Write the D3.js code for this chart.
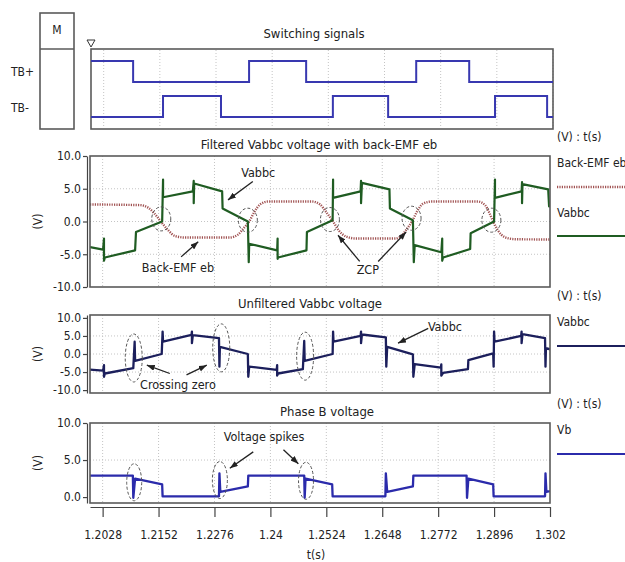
<!DOCTYPE html>
<html>
<head>
<meta charset="utf-8">
<script src="https://cdn.jsdelivr.net/npm/d3@7"></script>
<style>
    body { margin: 0; background: #fff; }
    svg text { font-family: "Liberation Sans Narrow", "DejaVu Sans Condensed", "Arial Narrow", Arial, sans-serif; fill: #222; }
    .frame { fill: none; stroke: #5a5a5a; stroke-width: 1.6; }
    .grid line { stroke: #c4c4c4; stroke-width: 1; stroke-dasharray: 1,2; }
    .axis path, .axis line { stroke: #444; stroke-width: 1.2; }
    .axis text { font-size: 12px; }
    .title { font-size: 13px; }
    .note { font-size: 12.5px; }
    .zone { fill: none; stroke: #555; stroke-width: 1; stroke-dasharray: 3,2; }
    .arrow { stroke: #222; stroke-width: 1.3; }
</style>
</head>
<body>
<script>
//wrap everything in an anonymous function so nothing lands in global scope
(function () {

    //time axis ticks and their printed labels
    var timeTicks = [1.2028, 1.2152, 1.2276, 1.24, 1.2524, 1.2648, 1.2772, 1.2896, 1.302];
    var timeLabels = ["1.2028", "1.2152", "1.2276", "1.24", "1.2524", "1.2648", "1.2772", "1.2896", "1.302"];

    //switching signals: edge times and the level after each edge
    var tbPlusT = [1.2, 1.2093, 1.2349, 1.2475, 1.2718, 1.2835, 1.302];
    var tbPlusV = [1, 0, 1, 0, 1, 0, 0];
    var tbMinusT = [1.2, 1.2159, 1.2287, 1.2534, 1.2656, 1.2892, 1.3007, 1.302];
    var tbMinusV = [0, 1, 0, 1, 0, 1, 0, 0];

    //filtered Vabbc (V)
    var fvT = [1.2000, 1.2029, 1.2031, 1.2031, 1.2033, 1.2100, 1.2102, 1.2160, 1.2162, 1.2162,
        1.2228, 1.2230, 1.2230, 1.2231, 1.2293, 1.2294, 1.2350, 1.2352, 1.2353, 1.2415,
        1.2416, 1.2416, 1.2417, 1.2480, 1.2481, 1.2538, 1.2539, 1.2539, 1.2600, 1.2601,
        1.2601, 1.2603, 1.2664, 1.2665, 1.2716, 1.2718, 1.2720, 1.2779, 1.2781, 1.2781,
        1.2783, 1.2843, 1.2844, 1.2896, 1.2898, 1.2898, 1.2957, 1.2958, 1.2958, 1.2959,
        1.3016, 1.3018, 1.3020];
    var fvV = [-3.9, -4.3, -2.6, -6.0, -5.5, -4.4, -1.6, 0, 6.4, 3.7,
        4.6, 6.2, 2.8, 5.8, 4.6, 2.0, 0, -6.2, -3.4, -4.4,
        -2.6, -5.7, -5.5, -4.4, -1.6, 0.2, 6.4, 3.6, 4.6, 6.2,
        2.8, 5.9, 4.9, 2.0, 0.2, -6.2, -3.6, -4.7, -2.6, -6.0,
        -5.5, -4.2, -1.8, 0, 6.4, 3.6, 4.6, 6.0, 2.8, 5.7,
        4.9, 2.3, 2.3];

    //back-EMF eb (V)
    var emfT = [1.2000, 1.2111, 1.2129, 1.2142, 1.2157, 1.2173, 1.2188, 1.2211, 1.2310, 1.2328,
        1.2341, 1.2353, 1.2364, 1.2377, 1.2395, 1.2492, 1.2510, 1.2523, 1.2539, 1.2552,
        1.2568, 1.2590, 1.2676, 1.2692, 1.2703, 1.2714, 1.2725, 1.2738, 1.2758, 1.2860,
        1.2876, 1.2885, 1.2894, 1.2905, 1.2920, 1.2942, 1.3020];
    var emfV = [2.6, 2.5, 2.1, 1.3, 0, -1.3, -2.2, -2.45, -2.45, -2.0,
        -1.0, 0, 1.4, 2.6, 3.05, 3.05, 2.6, 1.5, 0, -1.4,
        -2.3, -2.6, -2.6, -2.1, -1.1, 0, 1.5, 2.7, 3.05, 3.05,
        2.5, 1.4, 0, -1.4, -2.4, -2.7, -2.75];

    //unfiltered Vabbc (V)
    var uvT = [1.2000, 1.2029, 1.2031, 1.2031, 1.2033, 1.2096, 1.2099, 1.2100, 1.2159, 1.2161,
        1.2162, 1.2225, 1.2226, 1.2226, 1.2228, 1.2286, 1.2287, 1.2288, 1.2350, 1.2351,
        1.2353, 1.2414, 1.2415, 1.2415, 1.2417, 1.2472, 1.2475, 1.2476, 1.2538, 1.2539,
        1.2540, 1.2600, 1.2601, 1.2601, 1.2603, 1.2656, 1.2657, 1.2659, 1.2716, 1.2717,
        1.2720, 1.2778, 1.2779, 1.2779, 1.2783, 1.2838, 1.2839, 1.2894, 1.2895, 1.2896,
        1.2897, 1.2956, 1.2957, 1.2957, 1.2959, 1.3009, 1.3010, 1.3011, 1.3020];
    var uvV = [-4.3, -4.6, -3.1, -6.3, -5.4, -3.9, 3.4, -1.9, 0, 6.2,
        3.4, 5.3, 6.2, 3.0, 5.2, 4.4, -3.5, 2.0, 0, -6.3,
        -3.5, -4.4, -3.1, -6.0, -5.4, -4.2, 3.6, -1.9, 0, 6.2,
        3.4, 5.0, 6.2, 3.0, 5.4, 4.6, -3.5, 2.0, -0.1, -6.3,
        -2.8, -3.8, -2.9, -6.0, -5.2, -4.2, -1.7, 0.2, -3.5, 6.2,
        3.4, 5.0, 6.2, 3.0, 5.5, 4.4, -3.5, 1.6, 1.3];

    //phase B voltage Vb (V)
    var vbT = [1.2000, 1.2095, 1.2096, 1.2100, 1.2160, 1.2161, 1.2286, 1.2287, 1.2289, 1.2350,
        1.2351, 1.2475, 1.2476, 1.2478, 1.2537, 1.2538, 1.2655, 1.2656, 1.2659, 1.2716,
        1.2717, 1.2835, 1.2836, 1.2839, 1.2894, 1.2895, 1.3009, 1.3010, 1.3012, 1.3020];
    var vbV = [2.9, 2.9, -0.1, 2.5, 1.7, 0.1, 0.1, 3.2, 0.7, 1.45,
        2.9, 2.9, -0.1, 2.5, 1.7, 0.1, 0.1, 3.2, 0.7, 1.45,
        2.9, 2.9, -0.1, 2.5, 1.7, 0.1, 0.1, 3.2, 0.7, 0.8];

    //dashed circles around the zero crossing points (time, volts)
    var zcpT = [1.2158, 1.2350, 1.2532, 1.2713, 1.2890];
    var zcpV = [0.4, 0.2, 0.3, 0.5, 0.2];
    var crossT = [1.2097, 1.2291, 1.2477];
    var crossV = [-1.1, 1.7, -0.6];
    var spikeT = [1.2098, 1.2288, 1.2479];
    var spikeV = [2.0, 2.3, 2.2];

    //page
    var width = 625,
        height = 562;

    var svg = d3.select("body")
        .append("svg")
        .attr("width", width)
        .attr("height", height);

    //arrowhead used by the annotations
    svg.append("defs").append("marker")
        .attr("id", "arr")
        .attr("markerUnits", "userSpaceOnUse")
        .attr("markerWidth", 8)
        .attr("markerHeight", 6)
        .attr("refX", 8)
        .attr("refY", 3)
        .attr("orient", "auto")
        .append("path")
        .attr("d", "M0,0 L8,3 L0,6 z")
        .attr("fill", "#222");

    //shared time scale
    var x = d3.scaleLinear().domain([1.2, 1.302]).range([90, 550]);

    function pts(ts, vs) {
        return ts.map(function (t, i) { return [t, vs[i]]; });
    }

    //---------- switching signals ----------
    var xs = d3.scaleLinear().domain([1.2, 1.302]).range([91, 553]);
    var chan = d3.scalePoint().domain(["TB+", "TB-"]).range([71.5, 106.5]);
    var level = d3.scaleLinear().domain([0, 1]).range([10.5, -10.5]);

    //M box
    svg.append("rect").attr("class", "frame")
        .attr("x", 40).attr("y", 13).attr("width", 34).attr("height", 116);
    svg.append("line").attr("x1", 40).attr("x2", 74).attr("y1", 49).attr("y2", 49)
        .attr("stroke", "#5a5a5a").attr("stroke-width", 1.6);
    svg.append("text").attr("x", 57).attr("y", 34).attr("text-anchor", "middle")
        .style("font-size", "12px").text("M");

    svg.append("text").attr("class", "title").attr("x", 314).attr("y", 38)
        .attr("text-anchor", "middle").text("Switching signals");

    //cursor marker
    svg.append("path").attr("d", "M87,40 L95,40 L91,47 Z")
        .attr("fill", "none").attr("stroke", "#333").attr("stroke-width", 1);

    var swGrid = svg.append("g").attr("class", "grid");
    swGrid.selectAll("line").data(timeTicks).enter().append("line")
        .attr("x1", function (d) { return xs(d); })
        .attr("x2", function (d) { return xs(d); })
        .attr("y1", 50).attr("y2", 128);

    svg.append("rect").attr("class", "frame")
        .attr("x", 91).attr("y", 49).attr("width", 462).attr("height", 80);

    var signals = [
        { name: "TB+", data: pts(tbPlusT, tbPlusV) },
        { name: "TB-", data: pts(tbMinusT, tbMinusV) }
    ];
    signals.forEach(function (s) {
        var line = d3.line()
            .x(function (d) { return xs(d[0]); })
            .y(function (d) { return chan(s.name) + level(d[1]); })
            .curve(d3.curveStepAfter);
        svg.append("path").datum(s.data)
            .attr("d", line)
            .attr("fill", "none")
            .attr("stroke", "#3838b0")
            .attr("stroke-width", 2);
        svg.append("text").attr("x", 11).attr("y", chan(s.name) + 4 + (s.name == "TB+" ? 0 : 1))
            .style("font-size", "12px").text(s.name);
    });

    //---------- generic panel ----------
    function makePanel(cfg) {
        var y = d3.scaleLinear().domain(cfg.domain).range([cfg.bottom, cfg.top]);

        svg.append("text").attr("class", "title")
            .attr("x", cfg.titleX).attr("y", cfg.top - 7)
            .attr("text-anchor", "middle").text(cfg.title);

        //grid
        var g = svg.append("g").attr("class", "grid");
        g.selectAll(".vg").data(timeTicks.slice(0, -1)).enter().append("line")
            .attr("x1", function (d) { return x(d); })
            .attr("x2", function (d) { return x(d); })
            .attr("y1", cfg.top).attr("y2", cfg.bottom);
        g.selectAll(".hg").data(cfg.ticks.slice(1, -1)).enter().append("line")
            .attr("x1", 90).attr("x2", 550)
            .attr("y1", function (d) { return y(d); })
            .attr("y2", function (d) { return y(d); });

        //y axis, plain hyphen for negatives like the original
        svg.append("g").attr("class", "axis")
            .attr("transform", "translate(87,0)")
            .call(d3.axisLeft(y).tickValues(cfg.ticks).tickSize(4).tickSizeOuter(0)
                .tickPadding(2).tickFormat(function (d) { return d.toFixed(1); }));

        svg.append("text")
            .attr("transform", "translate(42," + ((cfg.top + cfg.bottom) / 2) + ") rotate(-90)")
            .attr("text-anchor", "middle").style("font-size", "12px").text("(V)");

        //clip for the traces
        var clipId = "clip" + cfg.top;
        svg.append("clipPath").attr("id", clipId).append("rect")
            .attr("x", 90).attr("y", cfg.top).attr("width", 460).attr("height", cfg.bottom - cfg.top);

        cfg.series.forEach(function (s) {
            var line = d3.line()
                .x(function (d) { return x(d[0]); })
                .y(function (d) { return y(d[1]); })
                .curve(s.curve || d3.curveLinear);
            svg.append("path").datum(s.data)
                .attr("clip-path", "url(#" + clipId + ")")
                .attr("d", line)
                .attr("fill", "none")
                .attr("stroke", s.color)
                .attr("stroke-width", s.width)
                .attr("stroke-dasharray", s.dash || null)
                .attr("stroke-linejoin", "round");
        });

        //dashed annotation ellipses
        cfg.zones.t.forEach(function (t, i) {
            svg.append("ellipse").attr("class", "zone")
                .attr("cx", x(t)).attr("cy", y(cfg.zones.v[i]))
                .attr("rx", cfg.zones.rx).attr("ry", cfg.zones.ry);
        });

        //notes and arrows
        cfg.notes.forEach(function (n) {
            svg.append("text").attr("class", "note")
                .attr("x", x(n.t)).attr("y", y(n.v)).attr("dy", "0.35em")
                .attr("text-anchor", "middle").text(n.text);
        });
        cfg.arrows.forEach(function (a) {
            svg.append("line").attr("class", "arrow")
                .attr("x1", x(a[0])).attr("y1", y(a[1]))
                .attr("x2", x(a[2])).attr("y2", y(a[3]))
                .attr("marker-end", "url(#arr)");
        });

        svg.append("rect").attr("class", "frame")
            .attr("x", 90).attr("y", cfg.top).attr("width", 460).attr("height", cfg.bottom - cfg.top);

        //legend at the right
        svg.append("text").attr("x", 557).attr("y", cfg.top - 15)
            .style("font-size", "12px").text("(V) : t(s)");
        cfg.legend.forEach(function (l, i) {
            svg.append("text").attr("x", 557).attr("y", cfg.top + 11 + i * 50)
                .style("font-size", "12px").text(l.name);
            svg.append("line")
                .attr("x1", 557).attr("x2", 625)
                .attr("y1", cfg.top + 31 + i * 49).attr("y2", cfg.top + 31 + i * 49)
                .attr("stroke", l.color).attr("stroke-width", l.width)
                .attr("stroke-dasharray", l.dash || null);
        });

        return y;
    }

    //filtered Vabbc with back-EMF
    makePanel({
        top: 156, bottom: 287, domain: [-10, 10], ticks: [-10, -5, 0, 5, 10],
        title: "Filtered Vabbc voltage with back-EMF eb", titleX: 319,
        series: [
            { data: pts(emfT, emfV), color: "#a05252", width: 2.4, dash: "1.2,1.2", curve: d3.curveMonotoneX },
            { data: pts(fvT, fvV), color: "#1f5c22", width: 2.2 }
        ],
        zones: { t: zcpT, v: zcpV, rx: 9.5, ry: 12 },
        notes: [
            { text: "Vabbc", t: 1.2373, v: 7.4 },
            { text: "Back-EMF eb", t: 1.2195, v: -7.1 },
            { text: "ZCP", t: 1.2616, v: -7.4 }
        ],
        arrows: [
            [1.2361, 6.1, 1.2306, 3.3],
            [1.2202, -5.4, 1.2240, -3.1],
            [1.2598, -6.1, 1.2550, -2.1],
            [1.2639, -6.1, 1.2701, -1.6]
        ],
        legend: [
            { name: "Back-EMF eb", color: "#a05252", width: 2.4, dash: "1.2,1.2" },
            { name: "Vabbc", color: "#1f5c22", width: 2.2 }
        ]
    });

    //unfiltered Vabbc
    makePanel({
        top: 315, bottom: 393, domain: [-10.8, 10.8], ticks: [-10, -5, 0, 5, 10],
        title: "Unfiltered Vabbc voltage", titleX: 310,
        series: [
            { data: pts(uvT, uvV), color: "#1c1f5c", width: 2.3 }
        ],
        zones: { t: crossT, v: crossV, rx: 8.5, ry: 24 },
        notes: [
            { text: "Vabbc", t: 1.2787, v: 7.6 },
            { text: "Crossing zero", t: 1.2195, v: -8.6 }
        ],
        arrows: [
            [1.2750, 7.1, 1.2683, 3.0],
            [1.2177, -5.4, 1.2126, -3.1],
            [1.2214, -5.8, 1.2259, -3.1]
        ],
        legend: [
            { name: "Vabbc", color: "#1c1f5c", width: 2.2 }
        ]
    });

    //phase B voltage
    var yB = makePanel({
        top: 423, bottom: 503, domain: [-0.8, 10], ticks: [0, 5, 10],
        title: "Phase B voltage", titleX: 327,
        series: [
            { data: pts(vbT, vbV), color: "#2b2bab", width: 2.3 }
        ],
        zones: { t: spikeT, v: spikeV, rx: 7.5, ry: 18.5 },
        notes: [
            { text: "Voltage spikes", t: 1.2386, v: 8.2 }
        ],
        arrows: [
            [1.2362, 6.1, 1.2310, 3.9],
            [1.2429, 6.4, 1.2462, 4.5]
        ],
        legend: [
            { name: "Vb", color: "#2b2bab", width: 2.2 }
        ]
    });

    //time axis under the last panel
    svg.append("g").attr("class", "axis")
        .attr("transform", "translate(0,507)")
        .call(d3.axisBottom(x).tickValues(timeTicks).tickSize(10).tickSizeOuter(0).tickPadding(13)
            .tickFormat(function (d, i) { return timeLabels[i]; }));

    svg.append("text").attr("x", 316).attr("y", 559)
        .attr("text-anchor", "middle").style("font-size", "12px").text("t(s)");

})();
</script>
</body>
</html>
